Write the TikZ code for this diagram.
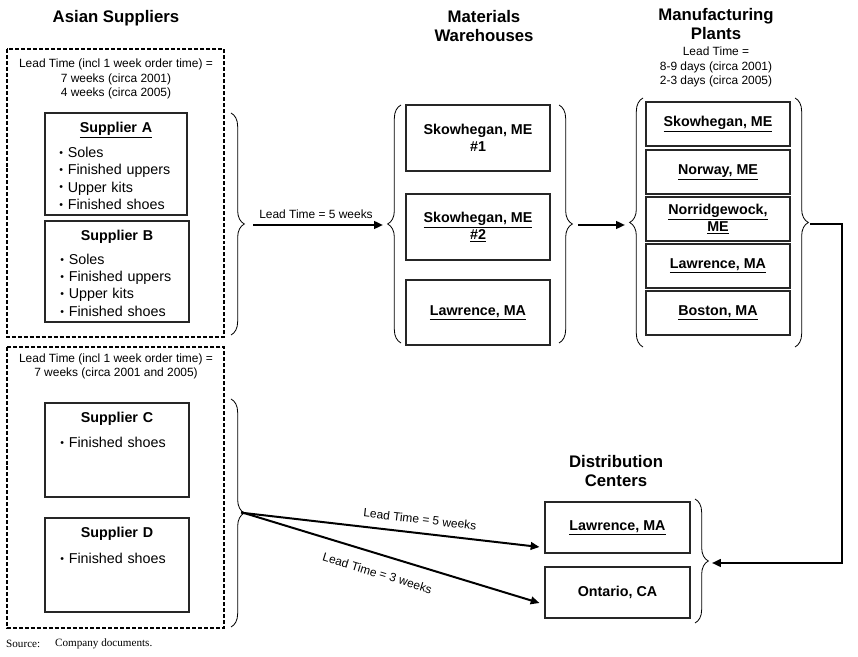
\documentclass[tikz,border=0pt]{standalone}
\usepackage{fontspec}
\setmainfont{Liberation Sans}
\newfontfamily\srcfont{Liberation Serif}
\usetikzlibrary{arrows.meta, decorations.pathreplacing, positioning}
\definecolor{boxline}{HTML}{262626}
\newcommand{\bul}{{\fontsize{9}{9}\selectfont\raisebox{0.2ex}{\textbullet}}\ }
\tikzset{
  grp/.style={line width=1.3pt, dash pattern=on 3.4pt off 1.7pt},
  supbox/.style={draw=boxline, line width=0.9pt, minimum width=4.32cm},
  site/.style={draw=boxline, line width=0.9pt, minimum width=4.32cm, align=center, font=\fontsize{12.2}{14.8}\selectfont\bfseries},
  suptext/.style={text width=3.4cm, align=left, inner sep=0pt, font=\fontsize{12.2}{14.8}\selectfont},
  hdr/.style={align=center, font=\fontsize{14.3}{16.8}\selectfont\bfseries},
  note/.style={align=center, font=\fontsize{10.2}{12.4}\selectfont},
  brc/.style={decorate, decoration={brace, amplitude=0.4cm}, line width=0.7pt},
  flow/.style={-{Triangle[length=7.5pt, width=6.5pt]}, line width=1.7pt}
}

\begin{document}
\begin{tikzpicture}[x=0.03cm, y=-0.03cm]
\useasboundingbox (0,0) rectangle (858,657);
% headings
\node[hdr] (hSup) at (116,18) {Asian Suppliers};
\node[hdr] (hWh) at (484,26) {Materials\\Warehouses};
\node[hdr] (hPl) at (716,24) {Manufacturing\\Plants};
\node[note] (ltPl) at (716,67) {Lead Time =\\8-9 days (circa 2001)\\2-3 days (circa 2005)};
\node[hdr] (hDc) at (616,471) {Distribution\\Centers};

% suppliers
\draw[grp] (7,49) rectangle (224,337);
\draw[grp] (7,347) rectangle (224,628);
\node[note] (ltAB) at (116,79) {Lead Time (incl 1 week order time) =\\7 weeks (circa 2001)\\4 weeks (circa 2005)};
\node[note] (ltCD) at (116,366.5) {Lead Time (incl 1 week order time) =\\7 weeks (circa 2001 and 2005)};

\node[supbox, minimum width=4.26cm, minimum height=3.06cm] (supA) at (116,164) {};
\node[suptext, below=8pt of supA.north] (supAtx) {\centering\textbf{\underline{Supplier A}}\par\vspace{6.5pt}\raggedright\bul Soles\\\bul Finished uppers\\\bul Upper kits\\\bul Finished shoes};
\node[supbox, minimum height=3.03cm] (supB) at (117,271.5) {};
\node[suptext, below=8pt of supB.north] (supBtx) {\centering\textbf{Supplier B}\par\vspace{5.5pt}\raggedright\bul Soles\\\bul Finished uppers\\\bul Upper kits\\\bul Finished shoes};
\node[supbox, minimum height=2.82cm] (supC) at (117,450) {};
\node[suptext, below=8pt of supC.north] (supCtx) {\centering\textbf{Supplier C}\par\vspace{7pt}\raggedright\bul Finished shoes};
\node[supbox, minimum height=2.82cm] (supD) at (117,565) {};
\node[suptext, below=8pt of supD.north] (supDtx) {\centering\textbf{Supplier D}\par\vspace{7.5pt}\raggedright\bul Finished shoes};

% warehouses
\node[site, minimum height=1.98cm] (wh1) at (478,138) {Skowhegan, ME\\\#1};
\node[site, minimum height=1.98cm] (wh2) at (478,227) {\underline{Skowhegan, ME}\\\underline{\#2}};
\node[site, minimum height=1.95cm] (wh3) at (478,312.5) {\underline{Lawrence, MA}};

% plants
\node[site, minimum height=1.32cm] (pl1) at (718,124) {\underline{Skowhegan, ME}};
\node[site, minimum height=1.32cm] (pl2) at (718,172) {\underline{Norway, ME}};
\node[site, minimum height=1.32cm] (pl3) at (718,219) {\underline{Norridgewock,}\\\underline{ME}};
\node[site, minimum height=1.32cm] (pl4) at (718,266) {\underline{Lawrence, MA}};
\node[site, minimum height=1.32cm] (pl5) at (718,313) {\underline{Boston, MA}};

% distribution centers
\node[site, minimum width=4.35cm, minimum height=1.53cm] (dcLaw) at (617.5,527.5) {\underline{Lawrence, MA}};
\node[site, minimum width=4.35cm, minimum height=1.53cm] (dcOnt) at (617.5,592.5) {Ontario, CA};

% braces
\draw[brc] (231,113) -- (231,335);
\draw[brc] (231,399) -- (231,627);
\draw[brc] (401,343) -- (401,105);
\draw[brc] (559,105) -- (559,343);
\draw[brc] (643,347) -- (643,98);
\draw[brc] (795,98) -- (795,347);
\draw[brc] (695,499) -- (695,623);
\coordinate (tAB) at (244,225);
\coordinate (tCD) at (244,513);
\coordinate (tWl) at (388,225);
\coordinate (tWr) at (572,225);
\coordinate (tPl) at (630,225);
\coordinate (tPr) at (808,224);
\coordinate (tDc) at (708,563);
\coordinate (eLaw) at ([shift={(-5,19.5)}]dcLaw.west);
\coordinate (eOnt) at ([shift={(-5,10.5)}]dcOnt.west);

% flows
\draw[flow, shorten <=7.7pt, shorten >=4.3pt] (tAB) -- (tWl) node[note, midway, above=1pt] (lblWh) {Lead Time = 5 weeks};
\draw[flow, shorten <=5pt, shorten >=4.3pt] (tWr) -- (tPl);
\draw[flow, shorten <=1.5pt, shorten >=3.4pt] (tPr) -- ++(34,0) |- (tDc);
\draw[flow, shorten <=-2.5pt] (tCD) -- (eLaw) node[note, pos=0.59, above=4pt, sloped] (lblLaw) {Lead Time = 5 weeks};
\draw[flow, shorten <=-2.5pt] (tCD) -- (eOnt) node[note, pos=0.47, below=8pt, sloped] (lblOnt) {Lead Time = 3 weeks};

% source
\node[anchor=west, inner sep=0pt, font=\srcfont\fontsize{9.5}{11}\selectfont] (src) at (6,644) {Source:};
\node[anchor=west, inner sep=0pt, font=\srcfont\fontsize{9.5}{11}\selectfont] (srcTx) at (55,644) {Company documents.};
\end{tikzpicture}
\end{document}
